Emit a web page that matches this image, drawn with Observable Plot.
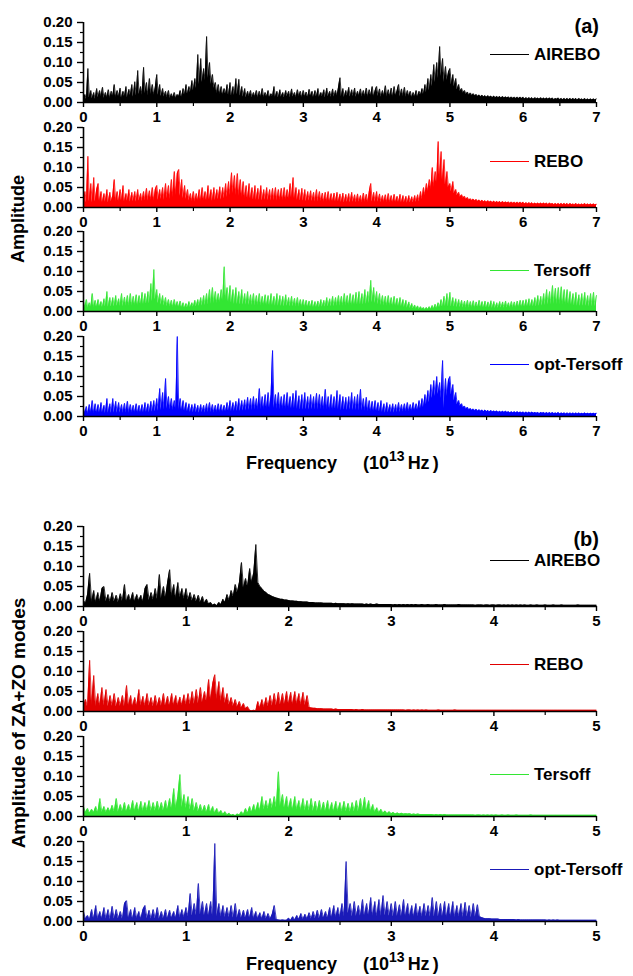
<!DOCTYPE html>
<html><head><meta charset="utf-8">
<script src="https://cdn.jsdelivr.net/npm/d3@7"></script>
<script src="https://cdn.jsdelivr.net/npm/@observablehq/plot@0.6"></script>
<style>
body{margin:0;background:#fff;font-family:"Liberation Sans",Arial,sans-serif;}
#root{position:relative;width:633px;height:976px;overflow:hidden;background:#fff;}
.abs{position:absolute;white-space:nowrap;font-weight:bold;color:#000;line-height:1;}
.plot{position:absolute;left:0;}
</style></head><body><div id="root"></div>
<script>
// Frequency grid (10^13 Hz) and axis ticks
const stepA = 0.02, stepB = 0.02;
const maxA = 7, maxB = 5;
const freqTicksA = [0,1,2,3,4,5,6,7];
const freqMinorA = [0.5,1.5,2.5,3.5,4.5,5.5,6.5];
const freqTicksB = [0,1,2,3,4,5];
const freqMinorB = [0.5,1.5,2.5,3.5,4.5];
const ampTicks = [0,0.05,0.10,0.15,0.20];
const ampMinor = [0.025,0.075,0.125,0.175];
const potentials = ["AIREBO","REBO","Tersoff","opt-Tersoff"];

// (a) total amplitude, one value every 0.02 from 0 to 7 (one line per unit)
const aireboA = [
.010,.020,.008,.085,.012, .030,.010,.025,.008,.035, .012,.030,.015,.038,.010, .025,.012,.032,.010,.028, .015,.045,.012,.030,.014, .036,.010,.028,.015,.040, .012,.033,.018,.045,.014, .052,.016,.080,.020,.040, .018,.088,.022,.050,.016, .060,.020,.045,.018,.038,
.070,.018,.045,.015,.035, .014,.028,.012,.030,.010, .022,.012,.025,.010,.020, .015,.030,.012,.035,.018, .045,.020,.040,.025,.055, .030,.060,.035,.120,.045, .110,.050,.085,.055,.165, .060,.100,.045,.070,.035, .050,.022,.045,.020,.040, .018,.035,.020,.045,.016,
.050,.015,.040,.018,.060, .020,.058,.016,.040,.014, .035,.012,.028,.015,.030, .012,.025,.014,.030,.011, .028,.013,.035,.012,.025, .014,.030,.012,.022,.015, .040,.013,.028,.012,.032, .014,.025,.012,.030,.015, .028,.012,.034,.014,.025, .012,.032,.015,.028,.012,
.030,.014,.026,.012,.033, .015,.028,.012,.030,.014, .035,.013,.025,.015,.032, .012,.036,.015,.028,.013, .034,.014,.030,.016,.038, .062,.015,.035,.013,.030, .016,.038,.014,.032,.015, .036,.013,.028,.016,.034, .014,.030,.015,.036,.013, .032,.016,.040,.014,.030,
.040,.015,.034,.013,.030, .016,.042,.014,.032,.015, .036,.013,.040,.016,.030, .045,.014,.034,.015,.038, .013,.030,.015,.028,.012, .025,.014,.030,.013,.028, .018,.035,.020,.045,.025, .060,.030,.070,.040,.095, .050,.100,.060,.140,.065, .110,.050,.090,.055,.075,
.085,.045,.070,.040,.060, .032,.045,.028,.035,.024, .030,.020,.026,.018,.024, .017,.022,.016,.020,.015, .019,.014,.018,.014,.017, .013,.017,.013,.016,.012, .016,.012,.015,.012,.015, .011,.015,.011,.014,.011, .014,.010,.014,.010,.013, .010,.013,.010,.013,.010,
.013,.009,.012,.009,.012, .009,.012,.008,.012,.009, .011,.008,.012,.008,.011, .008,.011,.008,.011,.008, .011,.007,.010,.008,.011, .007,.010,.007,.010,.007, .010,.007,.010,.007,.010, .007,.010,.006,.010,.007, .009,.006,.010,.006,.009, .006,.009,.006,.009,.006,
.009];
const reboA = [
.015,.040,.012,.128,.015, .060,.012,.075,.014,.045, .060,.013,.040,.012,.035, .014,.045,.012,.038,.015, .030,.070,.014,.040,.013, .045,.015,.055,.013,.035, .016,.045,.014,.038,.015, .040,.014,.045,.016,.035, .015,.040,.017,.048,.016, .042,.018,.050,.016,.045,
.055,.018,.045,.020,.050, .018,.060,.022,.055,.020, .070,.025,.090,.030,.085, .095,.028,.070,.022,.055, .020,.045,.016,.035,.015, .040,.014,.035,.016,.045, .015,.050,.017,.040,.016, .055,.018,.045,.016,.050, .018,.045,.020,.052,.019, .050,.022,.060,.025,.065,
.030,.087,.035,.080,.030, .085,.028,.070,.025,.065, .022,.055,.020,.060,.020, .050,.018,.055,.019,.048, .018,.055,.017,.045,.018, .050,.017,.045,.016,.048, .017,.050,.016,.045,.018, .048,.017,.050,.018,.045, .020,.060,.022,.075,.020, .050,.018,.045,.016,.048,
.016,.045,.015,.040,.016, .042,.015,.038,.014,.045, .014,.040,.015,.036,.013, .038,.014,.040,.013,.035, .014,.036,.013,.038,.014, .034,.013,.036,.012,.033, .013,.035,.012,.038,.013, .032,.012,.034,.013,.030, .012,.036,.013,.033,.012, .040,.060,.014,.038,.013,
.040,.013,.034,.012,.030, .013,.032,.012,.035,.012, .030,.011,.033,.012,.028, .012,.033,.011,.030,.012, .028,.011,.030,.012,.027, .012,.030,.013,.032,.014, .040,.020,.050,.030,.060, .040,.070,.045,.100,.050, .090,.060,.165,.070,.140, .065,.120,.055,.090,.050,
.060,.040,.065,.035,.045, .030,.038,.026,.032,.024, .028,.020,.025,.018,.022, .017,.021,.016,.020,.015, .019,.014,.018,.014,.017, .013,.017,.013,.016,.012, .016,.012,.015,.012,.015, .011,.015,.011,.014,.011, .014,.010,.014,.010,.013, .010,.013,.010,.013,.010,
.013,.009,.012,.009,.012, .009,.012,.008,.011,.008, .011,.008,.011,.008,.011, .008,.011,.007,.011,.008, .010,.007,.010,.007,.010, .007,.010,.007,.010,.007, .010,.006,.010,.007,.009, .006,.010,.006,.009,.006, .009,.006,.010,.006,.009, .006,.009,.006,.009,.006,
.008];
const tersoffA = [
.025,.010,.030,.008,.022, .010,.045,.009,.028,.010, .030,.011,.025,.010,.032, .012,.050,.011,.035,.012, .035,.012,.040,.013,.032, .013,.045,.012,.036,.014, .040,.013,.045,.014,.038, .015,.042,.014,.040,.016, .048,.016,.045,.018,.050, .020,.070,.025,.105,.030,
.055,.020,.045,.016,.040, .014,.035,.012,.030,.011, .028,.010,.030,.011,.025, .010,.026,.009,.022,.008, .020,.009,.025,.010,.022, .011,.028,.012,.030,.013, .035,.014,.040,.015,.045, .016,.055,.018,.060,.020, .050,.020,.045,.022,.055, .025,.112,.028,.060,.022,
.065,.020,.055,.018,.060, .018,.050,.017,.055,.016, .045,.016,.050,.015,.042, .015,.045,.014,.040,.015, .045,.014,.038,.015,.042, .014,.040,.013,.045,.014, .038,.013,.045,.014,.040, .013,.038,.012,.042,.013, .035,.012,.038,.012,.033, .011,.035,.011,.030,.011,
.030,.010,.028,.010,.026, .010,.028,.009,.025,.010, .026,.010,.030,.011,.028, .011,.035,.012,.032,.012, .038,.012,.035,.013,.040, .013,.038,.013,.045,.014, .040,.014,.045,.014,.042, .015,.048,.015,.050,.016, .045,.017,.055,.018,.050, .020,.078,.022,.060,.020,
.050,.017,.045,.015,.040, .014,.038,.013,.040,.013, .035,.012,.038,.012,.033, .011,.035,.011,.030,.010, .028,.009,.024,.008,.020, .007,.016,.006,.014,.005, .012,.005,.010,.004,.010, .005,.012,.005,.015,.006, .018,.007,.022,.009,.030, .010,.038,.012,.045,.012,
.048,.012,.035,.011,.032, .010,.030,.010,.028,.009, .026,.009,.028,.009,.025, .009,.027,.008,.024,.009, .028,.009,.025,.008,.026, .008,.024,.009,.027,.008, .025,.008,.022,.008,.025, .009,.024,.008,.026,.009, .022,.008,.025,.009,.024, .009,.026,.010,.028,.010,
.028,.010,.030,.011,.032, .011,.030,.012,.035,.012, .040,.013,.038,.014,.045, .015,.055,.016,.050,.017, .065,.018,.058,.017,.060, .017,.062,.016,.055,.016, .055,.015,.050,.015,.045, .014,.048,.014,.042,.013, .045,.013,.048,.013,.040, .012,.045,.012,.048,.012,
.040];
const optTersoffA = [
.020,.008,.025,.006,.030, .008,.040,.007,.032,.008, .030,.008,.035,.009,.028, .008,.045,.009,.032,.008, .045,.009,.038,.008,.035, .009,.030,.008,.033,.009, .038,.008,.030,.009,.028, .009,.032,.008,.028,.009, .030,.009,.035,.010,.032, .010,.038,.011,.040,.012,
.045,.013,.070,.015,.060, .016,.095,.018,.050,.016, .045,.015,.040,.016,.200, .015,.045,.013,.040,.012, .035,.011,.032,.010,.030, .010,.032,.010,.028,.009, .030,.010,.028,.009,.032, .010,.035,.010,.030,.009, .028,.010,.032,.010,.030, .010,.028,.011,.035,.012,
.040,.012,.035,.013,.038, .013,.045,.013,.040,.014, .042,.014,.048,.015,.045, .015,.050,.016,.045,.016, .070,.017,.050,.017,.055, .018,.060,.018,.055,.165, .020,.055,.018,.060,.017, .050,.018,.055,.017,.060, .018,.050,.017,.058,.018, .065,.018,.052,.017,.055,
.016,.060,.017,.050,.016, .055,.017,.050,.016,.058, .016,.055,.017,.050,.016, .068,.016,.050,.015,.055, .015,.050,.016,.065,.016, .055,.015,.050,.016,.048, .015,.050,.016,.060,.015, .050,.015,.055,.014,.068, .014,.045,.013,.048,.012, .040,.012,.038,.011,.040,
.011,.035,.010,.040,.010, .032,.009,.035,.010,.030, .010,.032,.009,.030,.010, .035,.010,.030,.011,.032, .012,.035,.012,.030,.013, .035,.014,.032,.015,.040, .018,.045,.022,.055,.030, .065,.035,.080,.045,.090, .050,.100,.055,.085,.045, .140,.020,.095,.050,.090,
.100,.055,.080,.040,.060, .030,.040,.026,.032,.022, .026,.018,.023,.016,.020, .015,.019,.014,.018,.013, .017,.013,.016,.012,.016, .012,.015,.011,.015,.011, .014,.011,.014,.010,.013, .010,.013,.010,.013,.010, .012,.009,.012,.009,.012, .009,.012,.009,.011,.009,
.011,.008,.011,.008,.011, .008,.011,.008,.010,.008, .010,.007,.010,.008,.010, .007,.010,.007,.010,.007, .010,.007,.009,.007,.010, .006,.009,.007,.009,.006, .009,.006,.009,.006,.009, .006,.009,.006,.009,.006, .008,.006,.009,.006,.008, .006,.008,.006,.008,.006,
.008];

// (b) amplitude of ZA+ZO modes, one value every 0.02 from 0 to 5
const aireboB = [
.015,.008,.030,.083,.010, .040,.010,.035,.012,.045, .050,.012,.030,.011,.035, .012,.028,.010,.032,.013, .055,.012,.030,.014,.035, .012,.030,.014,.028,.012, .045,.055,.015,.035,.016, .045,.018,.080,.020,.050, .022,.060,.092,.025,.055, .020,.060,.022,.045,.018,
.045,.016,.035,.014,.030, .012,.028,.010,.025,.008, .018,.006,.010,.003,.006, .002,.010,.005,.018,.010, .030,.015,.040,.025,.055, .035,.060,.110,.045,.070, .050,.095,.060,.085,.155, .060,.050,.045,.038,.035, .030,.028,.025,.023,.021, .020,.018,.018,.016,.016,
.015,.014,.014,.013,.013, .012,.012,.011,.011,.011, .010,.010,.010,.009,.009, .009,.009,.008,.008,.008, .008,.008,.007,.008,.007, .007,.007,.007,.006,.007, .006,.007,.006,.006,.006, .006,.006,.005,.006,.005, .006,.005,.005,.006,.005, .005,.005,.005,.005,.005,
.005,.004,.005,.004,.005, .004,.005,.004,.005,.004, .005,.004,.005,.004,.004, .005,.004,.004,.005,.004, .004,.004,.005,.004,.004, .004,.005,.004,.004,.004, .004,.004,.004,.005,.004, .004,.004,.004,.004,.004, .004,.003,.004,.004,.004, .003,.004,.004,.003,.004,
.004,.003,.004,.004,.003, .004,.003,.004,.003,.004, .003,.004,.003,.004,.003, .004,.003,.003,.004,.003, .003,.004,.003,.003,.003, .004,.003,.003,.003,.004, .003,.003,.003,.004,.003, .003,.003,.003,.003,.003, .003,.004,.003,.003,.003, .003,.003,.003,.003,.003,
.003];
const reboB = [
.010,.030,.012,.128,.015, .090,.012,.045,.013,.060, .014,.055,.012,.040,.013, .045,.012,.035,.013,.040, .012,.065,.013,.040,.012, .035,.013,.055,.014,.038, .013,.045,.014,.035,.012, .040,.013,.035,.014,.045, .013,.038,.014,.045,.015, .040,.014,.036,.015,.042,
.016,.045,.017,.050,.018, .055,.020,.060,.022,.050, .025,.080,.028,.070,.092, .030,.075,.025,.060,.020, .045,.016,.035,.013,.030, .011,.025,.009,.020,.007, .012,.003,.002,.003,.002, .025,.008,.030,.010,.035, .012,.040,.014,.045,.015, .048,.016,.045,.017,.050,
.018,.048,.017,.050,.018, .045,.016,.048,.015,.040, .010,.009,.008,.008,.007, .007,.007,.006,.006,.006, .006,.006,.005,.006,.005, .005,.005,.005,.005,.005, .005,.005,.004,.005,.004, .004,.005,.004,.004,.004, .004,.004,.004,.004,.004, .004,.004,.004,.004,.004,
.004,.004,.004,.004,.004, .004,.004,.003,.004,.004, .003,.004,.003,.004,.003, .004,.003,.004,.003,.003, .003,.003,.003,.004,.003, .003,.003,.003,.003,.003, .003,.004,.003,.003,.003, .003,.003,.003,.003,.003, .003,.003,.003,.003,.003, .003,.003,.003,.003,.003,
.003,.003,.003,.003,.003, .003,.003,.003,.003,.003, .003,.003,.003,.003,.003, .003,.003,.003,.003,.003, .003,.003,.003,.003,.003, .003,.003,.003,.003,.003, .003,.003,.003,.003,.003, .003,.003,.003,.003,.003, .003,.003,.003,.003,.003, .003,.003,.003,.003,.003,
.003];
const tersoffB = [
.025,.010,.020,.008,.018, .010,.025,.009,.045,.010, .025,.010,.022,.011,.028, .012,.045,.011,.030,.012, .035,.012,.030,.013,.040, .013,.035,.012,.038,.013, .035,.014,.040,.013,.035, .014,.038,.015,.035,.014, .040,.016,.045,.018,.070, .020,.050,.105,.022,.055,
.020,.050,.016,.045,.014, .035,.012,.030,.011,.028, .010,.030,.010,.025,.008, .020,.007,.015,.005,.012, .004,.008,.003,.005,.002, .006,.004,.012,.005,.020, .008,.025,.010,.030,.012, .035,.014,.050,.016,.040, .018,.045,.020,.050,.022, .112,.025,.055,.020,.050,
.018,.045,.016,.050,.016, .040,.015,.045,.014,.040, .014,.045,.013,.038,.013, .040,.013,.036,.012,.040, .012,.035,.012,.038,.012, .035,.011,.038,.012,.033, .011,.035,.012,.040,.012, .045,.013,.048,.013,.040, .012,.030,.010,.022,.009, .018,.008,.014,.007,.012,
.007,.010,.006,.009,.006, .008,.006,.007,.006,.007, .005,.006,.005,.006,.005, .005,.005,.005,.005,.005, .005,.004,.005,.004,.005, .004,.005,.004,.004,.004, .004,.004,.004,.004,.004, .004,.004,.004,.004,.004, .004,.003,.004,.004,.003, .004,.003,.004,.003,.004,
.003,.004,.003,.003,.004, .003,.003,.004,.003,.003, .003,.004,.003,.003,.003, .003,.003,.003,.004,.003, .003,.003,.003,.003,.003, .003,.003,.003,.003,.003, .003,.003,.003,.003,.003, .003,.003,.003,.003,.003, .003,.003,.003,.003,.003, .003,.003,.003,.003,.003,
.003];
const optTersoffB = [
.025,.006,.015,.005,.030, .006,.040,.006,.025,.007, .035,.006,.030,.005,.038, .006,.030,.007,.025,.006, .045,.052,.007,.030,.006, .035,.007,.025,.006,.030, .040,.007,.028,.006,.030, .007,.035,.006,.025,.007, .030,.007,.028,.008,.025, .008,.040,.009,.030,.010,
.035,.012,.070,.014,.045, .015,.095,.016,.050,.014, .045,.013,.050,.012,.195, .012,.045,.011,.040,.010, .035,.010,.040,.009,.045, .009,.030,.008,.028,.008, .030,.008,.035,.007,.025, .007,.022,.006,.025,.006, .020,.006,.018,.040,.005, .004,.003,.004,.003,.003,
.008,.003,.012,.004,.015, .005,.020,.005,.018,.006, .022,.006,.025,.007,.028, .007,.030,.008,.025,.008, .035,.009,.040,.010,.035, .010,.045,.012,.150,.020, .045,.012,.050,.013,.040, .013,.055,.013,.045,.014, .060,.013,.050,.012,.055, .013,.065,.014,.050,.013,
.045,.012,.050,.013,.042, .012,.055,.012,.045,.011, .040,.011,.045,.012,.038, .011,.045,.012,.040,.011, .060,.012,.050,.011,.045, .011,.050,.010,.045,.011, .050,.010,.040,.011,.045, .010,.048,.011,.040,.010, .045,.011,.042,.012,.010, .008,.007,.007,.007,.006,
.006,.006,.006,.005,.005, .005,.005,.005,.005,.005, .005,.004,.005,.004,.004, .004,.004,.004,.004,.004, .004,.004,.004,.004,.004, .004,.003,.004,.003,.004, .003,.004,.003,.003,.003, .003,.003,.003,.003,.003, .003,.003,.003,.003,.003, .003,.003,.003,.003,.003,
.003];

const colorsA = ["#000000","#ff0000","#33e633","#0000ff"];
const colorsB = ["#000000","#e00000","#33e633","#1a1ab8"];

function table(vals, step, xMax){
  const n = Math.round(xMax/step)+1;
  if (vals.length !== n) throw new Error("length " + vals.length + " != " + n);
  return vals.map((a,i)=>({f: +(i*step).toFixed(3), a}));
}

const root = document.getElementById("root");
const L = 83, R = 596, MT = 10, MB = 40, H = 130;

function panel(vals, step, xMax, ticks, minor, color, bottom){
  const data = table(vals, step, xMax);
  const svg = Plot.plot({
    width: 633, height: H,
    marginLeft: L, marginRight: 633 - R, marginTop: MT, marginBottom: MB,
    x: {domain: [0, xMax], label: null},
    y: {domain: [0, 0.2], label: null},
    style: {background: "transparent", overflow: "visible", fontFamily: "Liberation Sans, Arial, sans-serif", fontSize: "15px", fontWeight: "bold", color: "#000"},
    marks: [
      Plot.areaY(data, {x: "f", y: "a", fill: color}),
      Plot.line(data, {x: "f", y: "a", stroke: color, strokeWidth: 0.8}),
      Plot.ruleY([0], {stroke: "#000", strokeWidth: 1.6}),
      Plot.ruleX([0], {stroke: "#000", strokeWidth: 1.6}),
      Plot.axisX(ticks, {tickSize: 5, tickPadding: 4, tickFormat: d => String(d), label: null, strokeWidth: 1.4, fontSize: 15, fontWeight: "bold"}),
      Plot.axisX(minor, {tickSize: 4, tickFormat: () => "", label: null, strokeWidth: 1.2}),
      Plot.axisY(ampTicks, {tickSize: 6, tickPadding: 5, tickFormat: d3.format(".2f"), label: null, strokeWidth: 1.4, fontSize: 15, fontWeight: "bold"}),
      Plot.axisY(ampMinor, {tickSize: 3, tickFormat: () => "", label: null, strokeWidth: 1.2})
    ]
  });
  svg.classList.add("plot");
  svg.style.top = (bottom - (H - MB)) + "px";
  root.appendChild(svg);
}

function addText(html, css){
  const d = document.createElement("div");
  d.className = "abs";
  d.innerHTML = html;
  Object.assign(d.style, css);
  root.appendChild(d);
  return d;
}

function legend(name, color, cy){
  const ln = document.createElement("div");
  Object.assign(ln.style, {position: "absolute", left: "490px", width: "39px", top: (cy) + "px", height: "0", borderTop: "1.3px solid " + color});
  root.appendChild(ln);
  addText(name, {left: "534px", top: cy + "px", fontSize: "17px", transform: "translateY(-50%)"});
}

const seriesA = [aireboA, reboA, tersoffA, optTersoffA];
const seriesB = [aireboB, reboB, tersoffB, optTersoffB];
const bottomsA = [102, 207, 311, 416];
const bottomsB = [606, 711, 816, 921];
const legendYA = [54, 161, 270, 364];
const legendYB = [560, 664, 774, 869];

seriesA.forEach((s, k) => {
  panel(s, stepA, maxA, freqTicksA, freqMinorA, colorsA[k], bottomsA[k]);
  legend(potentials[k], colorsA[k], legendYA[k]);
});
seriesB.forEach((s, k) => {
  panel(s, stepB, maxB, freqTicksB, freqMinorB, colorsB[k], bottomsB[k]);
  legend(potentials[k], colorsB[k], legendYB[k]);
});

addText("(a)", {right: "34px", top: "26px", fontSize: "20px", transform: "translateY(-50%)"});
addText("(b)", {right: "34px", top: "539px", fontSize: "20px", transform: "translateY(-50%)"});

addText("Amplitude", {left: "18px", top: "219px", fontSize: "18px", transform: "translate(-50%,-50%) rotate(-90deg)"});
addText("Amplitude of ZA+ZO modes", {left: "18px", top: "723px", fontSize: "19px", transform: "translate(-50%,-50%) rotate(-90deg)"});

const freqHtml = 'Frequency<span style="margin-left:26px">(10</span><span style="font-size:14px;position:relative;top:-8px">13</span><span style="margin-left:3px">Hz</span><span style="margin-left:3px">)</span>';
addText(freqHtml, {left: "246px", top: "463px", fontSize: "18px", transform: "translateY(-50%)"});
addText(freqHtml, {left: "246px", top: "964px", fontSize: "18px", transform: "translateY(-50%)"});
</script>
</body></html>
